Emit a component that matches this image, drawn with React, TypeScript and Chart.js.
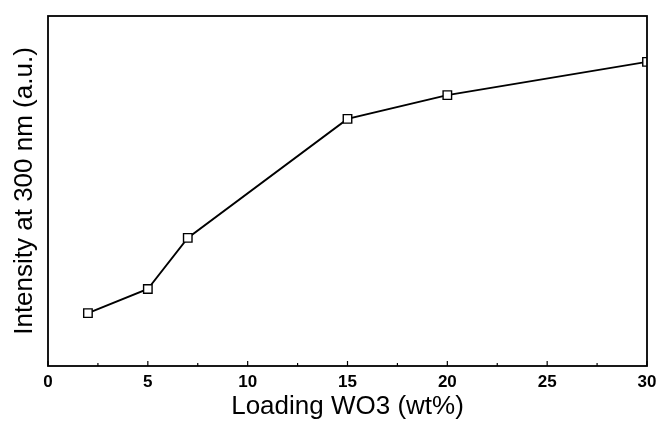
import React, { useEffect, useRef } from "react";
import { Chart, registerables } from "chart.js";

Chart.register(...registerables);

const loading = [2, 5, 7, 15, 20, 30];
const intensity = [15.1, 22.0, 36.6, 70.6, 77.4, 86.9];
const xTicks = [0, 5, 10, 15, 20, 25, 30];
const xMinorTicks = [2.5, 7.5, 12.5, 17.5, 22.5, 27.5];

const framePlugin = {
  id: "frame",
  afterDatasetsDraw(chart: any) {
    const { ctx, chartArea, scales } = chart;
    const { left, right, top, bottom } = chartArea;
    ctx.save();
    ctx.strokeStyle = "#000";
    ctx.lineWidth = 1.8;
    ctx.strokeRect(left, top, right - left, bottom - top);
    ctx.lineWidth = 1.2;
    const xs = scales.x;
    xTicks.forEach((v) => {
      const px = xs.getPixelForValue(v);
      ctx.beginPath();
      ctx.moveTo(px, bottom);
      ctx.lineTo(px, bottom - 5);
      ctx.stroke();
    });
    xMinorTicks.forEach((v) => {
      const px = xs.getPixelForValue(v);
      ctx.beginPath();
      ctx.moveTo(px, bottom);
      ctx.lineTo(px, bottom - 3);
      ctx.stroke();
    });
    ctx.restore();
  },
};

export default function App() {
  const ref = useRef<HTMLCanvasElement>(null);
  useEffect(() => {
    const chart = new Chart(ref.current!, {
      type: "line",
      data: {
        datasets: [
          {
            data: loading.map((x, i) => ({ x, y: intensity[i] })),
            borderColor: "#000",
            borderWidth: 1.9,
            pointStyle: "rect",
            pointRadius: 6,
            pointBackgroundColor: "#fff",
            pointBorderColor: "#000",
            pointBorderWidth: 1.4,
            tension: 0,
          },
        ],
      },
      options: {
        animation: false,
        responsive: false,
        layout: { padding: { top: 16, right: 9, left: 0, bottom: 0 } },
        plugins: { legend: { display: false }, tooltip: { enabled: false } },
        scales: {
          x: {
            type: "linear",
            min: 0,
            max: 30,
            grid: { display: false, drawTicks: false },
            border: { display: false },
            afterBuildTicks: (s: any) => {
              s.ticks = xTicks.map((v) => ({ value: v }));
            },
            afterFit: (s: any) => {
              s.height = 56;
              s.paddingRight = 0;
              s.paddingLeft = 0;
            },
            ticks: {
              color: "#000",
              padding: 6,
              maxRotation: 0,
              font: { family: "Liberation Sans", size: 17, weight: "bold" },
            },
            title: {
              display: true,
              text: "Loading WO3 (wt%)",
              color: "#000",
              padding: { top: 2, bottom: 0 },
              font: { family: "Liberation Sans", size: 26 },
            },
          },
          y: {
            min: 0,
            max: 100,
            grid: { display: false, drawTicks: false },
            border: { display: false },
            ticks: { display: false },
            afterFit: (s: any) => {
              s.width = 48;
            },
            title: {
              display: true,
              text: "Intensity at 300 nm (a.u.)",
              color: "#000",
              padding: { top: 9, bottom: 0 },
              font: { family: "Liberation Sans", size: 26 },
            },
          },
        },
      },
      plugins: [framePlugin],
    });
    return () => chart.destroy();
  }, []);
  return (
    <div style={{ position: "fixed", left: 0, top: 0, width: 656, height: 422, background: "#fff" }}>
      <canvas ref={ref} width={656} height={422} />
    </div>
  );
}
